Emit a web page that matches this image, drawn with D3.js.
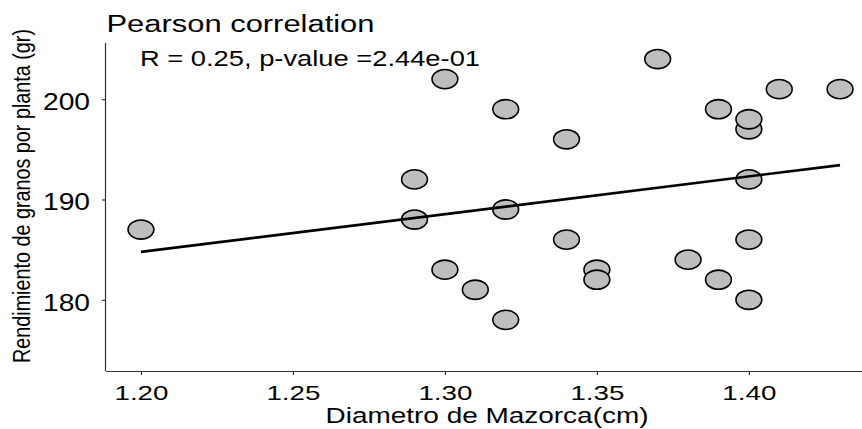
<!DOCTYPE html>
<html>
<head>
<meta charset="utf-8">
<script src="https://cdn.jsdelivr.net/npm/d3@7"></script>
<style>
  html, body { margin: 0; padding: 0; background: #fff; }
  svg { display: block; }
  text { font-family: "Liberation Sans", Arial, sans-serif; fill: #000; }
</style>
</head>
<body>
<svg id="chart" width="862" height="429"></svg>
<script>
// ---- data ----
const diametro = [1.20, 1.29, 1.29, 1.30, 1.30, 1.31, 1.32, 1.32, 1.32, 1.34, 1.34, 1.35, 1.35, 1.37, 1.38, 1.39, 1.39, 1.40, 1.40, 1.40, 1.40, 1.40, 1.41, 1.43];
const rendimiento = [187, 192, 188, 202, 183, 181, 199, 189, 178, 196, 186, 183, 182, 204, 184, 199, 182, 197, 198, 192, 186, 180, 201, 201];
const xTicks = [1.20, 1.25, 1.30, 1.35, 1.40];
const yTicks = [180, 190, 200];
const titleText = "Pearson correlation";
const statText = "R = 0.25, p-value =2.44e-01";
const xTitle = "Diametro de Mazorca(cm)";
const yTitle = "Rendimiento de granos por planta (gr)";

(function () {
const svg = d3.select("#chart");

const pLeft = 106, pRight = 875, pTop = 43, pBottom = 371;
const x = d3.scaleLinear().domain([1.1885, 1.4415]).range([pLeft, pRight]);
const y = d3.scaleLinear().domain([172.9, 205.6]).range([pBottom, pTop]);

// axes
const axisColor = "#333";
const xAxis = svg.append("g").attr("transform", `translate(0,${pBottom})`)
  .call(d3.axisBottom(x).tickValues(xTicks).tickFormat(d3.format(".2f")).tickSize(4).tickSizeOuter(0));
const yAxis = svg.append("g").attr("transform", `translate(${pLeft},0)`)
  .call(d3.axisLeft(y).tickValues(yTicks).tickFormat(d3.format("d")).tickSize(4).tickSizeOuter(0));
[xAxis, yAxis].forEach(g => {
  g.select(".domain").attr("stroke", axisColor).attr("stroke-width", 1.2);
  g.selectAll(".tick line").attr("stroke", axisColor).attr("stroke-width", 1.2);
  g.selectAll("text").attr("fill", "#000").attr("font-family", "Liberation Sans, Arial, sans-serif");
});
xAxis.selectAll(".domain").attr("d", `M${pLeft},0.5H862`);
yAxis.selectAll(".domain").attr("d", `M-0.5,${pTop}V${pBottom}`);
xAxis.selectAll(".tick text")
  .attr("font-size", 21).attr("y", 29).attr("dy", null)
  .attr("textLength", 54).attr("lengthAdjust", "spacingAndGlyphs");
yAxis.selectAll(".tick text")
  .attr("font-size", 23).attr("x", -16).attr("dy", "0.45em")
  .attr("textLength", 47).attr("lengthAdjust", "spacingAndGlyphs");

// points
svg.append("g").selectAll("ellipse")
  .data(diametro.map((d, i) => ({x: d, y: rendimiento[i]})))
  .join("ellipse")
  .attr("cx", d => x(d.x))
  .attr("cy", d => y(d.y))
  .attr("rx", 12.9)
  .attr("ry", 9.6)
  .attr("fill", "#bebebe")
  .attr("stroke", "#000")
  .attr("stroke-width", 1.6);

// regression line (least squares from data)
const mx = d3.mean(diametro), my = d3.mean(rendimiento);
let sxy = 0, sxx = 0;
diametro.forEach((d, i) => { sxy += (d - mx) * (rendimiento[i] - my); sxx += (d - mx) * (d - mx); });
const slope = sxy / sxx, intercept = my - slope * mx;
const xs = d3.extent(diametro);
svg.append("path")
  .datum(xs.map(v => [v, intercept + slope * v]))
  .attr("d", d3.line().x(d => x(d[0])).y(d => y(d[1])))
  .attr("fill", "none")
  .attr("stroke", "#000")
  .attr("stroke-width", 2.6);

// texts
svg.append("text").attr("x", 106.5).attr("y", 31.7).attr("font-size", 23)
  .attr("textLength", 268).attr("lengthAdjust", "spacingAndGlyphs").text(titleText);
svg.append("text").attr("x", 140).attr("y", 65.7).attr("font-size", 22)
  .attr("textLength", 340).attr("lengthAdjust", "spacingAndGlyphs").text(statText);
svg.append("text").attr("x", 487).attr("y", 423).attr("font-size", 22).attr("text-anchor", "middle")
  .attr("textLength", 323).attr("lengthAdjust", "spacingAndGlyphs").text(xTitle);
svg.append("text").attr("transform", "translate(30,196) rotate(-90)").attr("font-size", 23.5)
  .attr("text-anchor", "middle")
  .attr("textLength", 334).attr("lengthAdjust", "spacingAndGlyphs").text(yTitle);
})();
</script>
</body>
</html>
